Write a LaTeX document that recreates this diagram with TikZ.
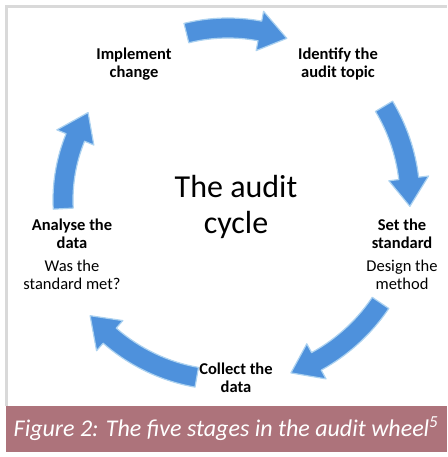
\documentclass[tikz,border=0pt]{standalone}
\usepackage{fontspec}
\setmainfont{Carlito}
\usepackage{xcolor}
\usepackage{tikz}
\usetikzlibrary{arrows.meta,calc,positioning}

\definecolor{arrowblue}{RGB}{78,145,220}
\definecolor{arrowrim}{RGB}{172,210,240}
\definecolor{framegray}{RGB}{217,217,217}
\definecolor{bandrose}{RGB}{173,115,123}

\begin{document}
\begin{tikzpicture}[x=1pt, y=1pt,
    stage/.style={align=center, font=\bfseries\fontsize{16.5}{18}\selectfont},
    note/.style={align=center, font=\fontsize{16.5}{18}\selectfont}]
  \useasboundingbox (0,0) rectangle (447,457);
  \def\w{10}
  \def\hw{20}
  \coordinate (C) at (228,257);
  \draw[framegray, line width=2.5pt] (6.5,51) -- (6.5,450.5) -- (447,450.5);
  \fill[bandrose] (6,5) rectangle (447,51);
  \node[white, font=\itshape\fontsize{24}{28}\selectfont] (caption) at (226,28)
    {Figure 2: The five stages in the audit wheel\textsuperscript{5}};
  \begin{scope}[shift={(C)}]
    \foreach \a/\b/\r in {104/70/172, 31/-2/182, -34/-70/184, -100/-140/180, 183/148/165}{
      \pgfmathsetmacro\h{\b+28/\r*57.3}
      \filldraw[fill=arrowblue, draw=arrowrim, line width=1.2pt, line join=round]
        ({\a}:{\r+\w}) arc[start angle=\a, end angle=\h, radius=\r+\w]
        -- ({\h}:{\r+\hw}) -- ({\b}:{\r}) -- ({\h}:{\r-\hw})
        -- ({\h}:{\r-\w}) arc[start angle=\h, end angle=\a, radius=\r-\w] -- cycle;
    }
  \end{scope}
  \node[font=\fontsize{32}{36}\selectfont, align=center] (title) at (236,250) {The audit\\cycle};
  \node[stage] (implement) at (134,393) {Implement\\change};
  \node[stage] (identify) at (338,393) {Identify the\\audit topic};
  \node[stage] (standard) at (402,223) {Set the\\standard};
  \node[note, below=4pt of standard] (design) {Design the\\method};
  \node[stage] (analyse) at (72,223) {Analyse the\\data};
  \node[note, below=4pt of analyse] (met) {Was the\\standard met?};
  \node[stage] (collect) at (236,79) {Collect the\\data};
\end{tikzpicture}
\end{document}
